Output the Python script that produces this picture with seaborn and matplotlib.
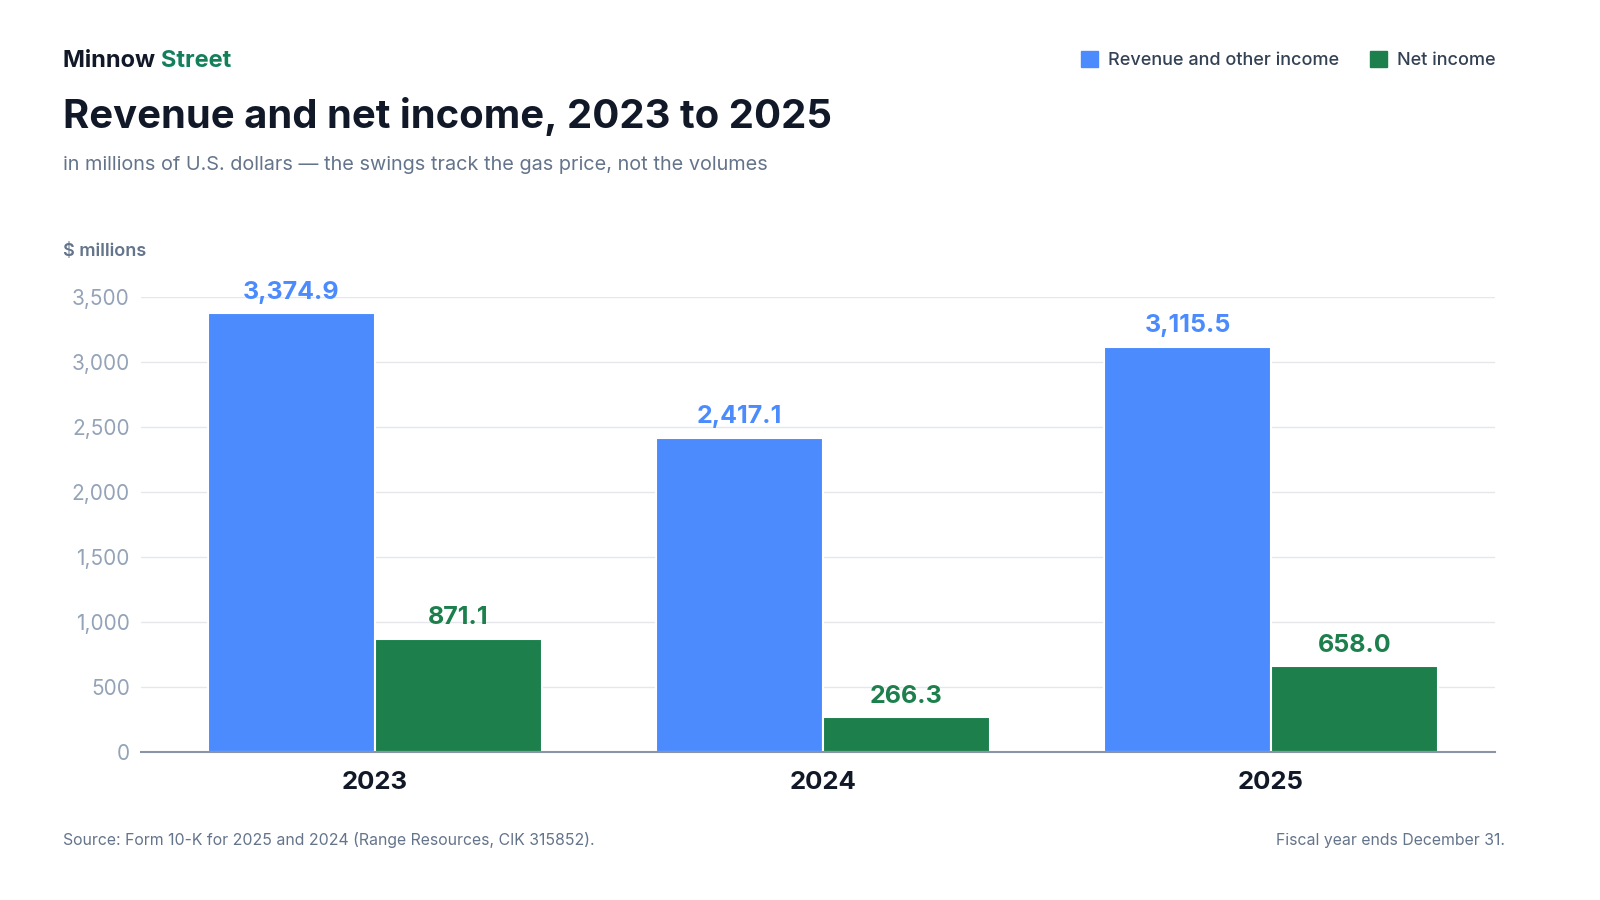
import matplotlib
matplotlib.use("Agg")
import matplotlib.pyplot as plt
import seaborn as sns
import pandas as pd

# data
years = ["2023", "2024", "2025"]
revenue = [3374.9, 2417.1, 3115.5]
net_income = [871.1, 266.3, 658.0]
series_names = ["Revenue and other income", "Net income"]
y_ticks = [0, 500, 1000, 1500, 2000, 2500, 3000, 3500]

BLUE = "#4B8BFE"
GREEN = "#1C7F4C"
DARK = "#111827"
GRAY = "#64748B"
TICK = "#94A3B8"

df = pd.DataFrame({
    "year": years * 2,
    "value": revenue + net_income,
    "series": [series_names[0]] * 3 + [series_names[1]] * 3,
})

sns.set_theme(style="white")
plt.rcParams["font.family"] = ["Inter", "DejaVu Sans"]

fig = plt.figure(figsize=(16, 9), dpi=100)
ax = fig.add_axes([141 / 1600, 1 - 752 / 900, (1495 - 141) / 1600, (752 - 297) / 900])

sns.barplot(data=df, x="year", y="value", hue="series", order=years,
            hue_order=series_names, palette=[BLUE, GREEN], width=0.745,
            edgecolor="white", linewidth=1.5, saturation=1, legend=False, ax=ax)

ax.set_ylim(0, 3500)
ax.set_xlim(-0.522, 2.5)
ax.set_yticks(y_ticks)
ax.set_yticklabels([f"{t:,}" for t in y_ticks], color=TICK, fontsize=15)
ax.yaxis.grid(True, color="#E5E7EB", linewidth=1)
ax.set_axisbelow(True)
ax.tick_params(axis="y", length=0, pad=8)
ax.tick_params(axis="x", length=0, pad=14)
for lbl in ax.get_xticklabels():
    lbl.set_fontsize(18.5)
    lbl.set_fontweight("bold")
    lbl.set_color(DARK)
ax.set_xlabel("")
ax.set_ylabel("")
for side in ["top", "right", "left"]:
    ax.spines[side].set_visible(False)
ax.spines["bottom"].set_color("#8A94A6")
ax.spines["bottom"].set_linewidth(1.5)

# value labels
for container, color in zip(ax.containers, [BLUE, GREEN]):
    ax.bar_label(container, labels=[f"{v:,.1f}" for v in container.datavalues],
                 padding=7, color=color, fontsize=18, fontweight="bold", clip_on=False)

# header
brand = fig.text(63 / 1600, 1 - 61 / 900, "Minnow ", fontsize=17, fontweight="bold",
                 color=DARK, va="center")
fig.canvas.draw()
bb = brand.get_window_extent(fig.canvas.get_renderer())
fig.text(bb.x1 / 1600, 1 - 61 / 900, "Street", fontsize=17, fontweight="bold",
         color="#13805A", va="center")
fig.text(63 / 1600, 1 - 116 / 900, "Revenue and net income, 2023 to 2025",
         fontsize=28.8, fontweight="bold", color=DARK, va="center")
fig.text(63 / 1600, 1 - 165 / 900,
         "in millions of U.S. dollars \u2014 the swings track the gas price, not the volumes",
         fontsize=14.3, color=GRAY, va="center")
fig.text(63 / 1600, 1 - 252 / 900, "$ millions", fontsize=13, color=GRAY,
         fontweight="semibold", va="center")

# legend
handles = [plt.Rectangle((0, 0), 1, 1, color=c) for c in [BLUE, GREEN]]
leg = fig.legend(handles, series_names, loc="center right",
                 bbox_to_anchor=(1512 / 1600, 1 - 60 / 900),
                 ncol=2, frameon=False, fontsize=13, handlelength=0.95, handleheight=0.95,
                 handletextpad=0.55, columnspacing=1.7, labelcolor="#334155")
for t in leg.get_texts():
    t.set_fontweight("medium")

# footer
fig.text(63 / 1600, 1 - 840 / 900,
         "Source: Form 10-K for 2025 and 2024 (Range Resources, CIK 315852).",
         fontsize=11.4, color=GRAY, va="center")
fig.text(1505 / 1600, 1 - 840 / 900, "Fiscal year ends December 31.",
         fontsize=11.4, color=GRAY, va="center", ha="right")

fig.savefig("out.png", dpi=100, facecolor="white")
